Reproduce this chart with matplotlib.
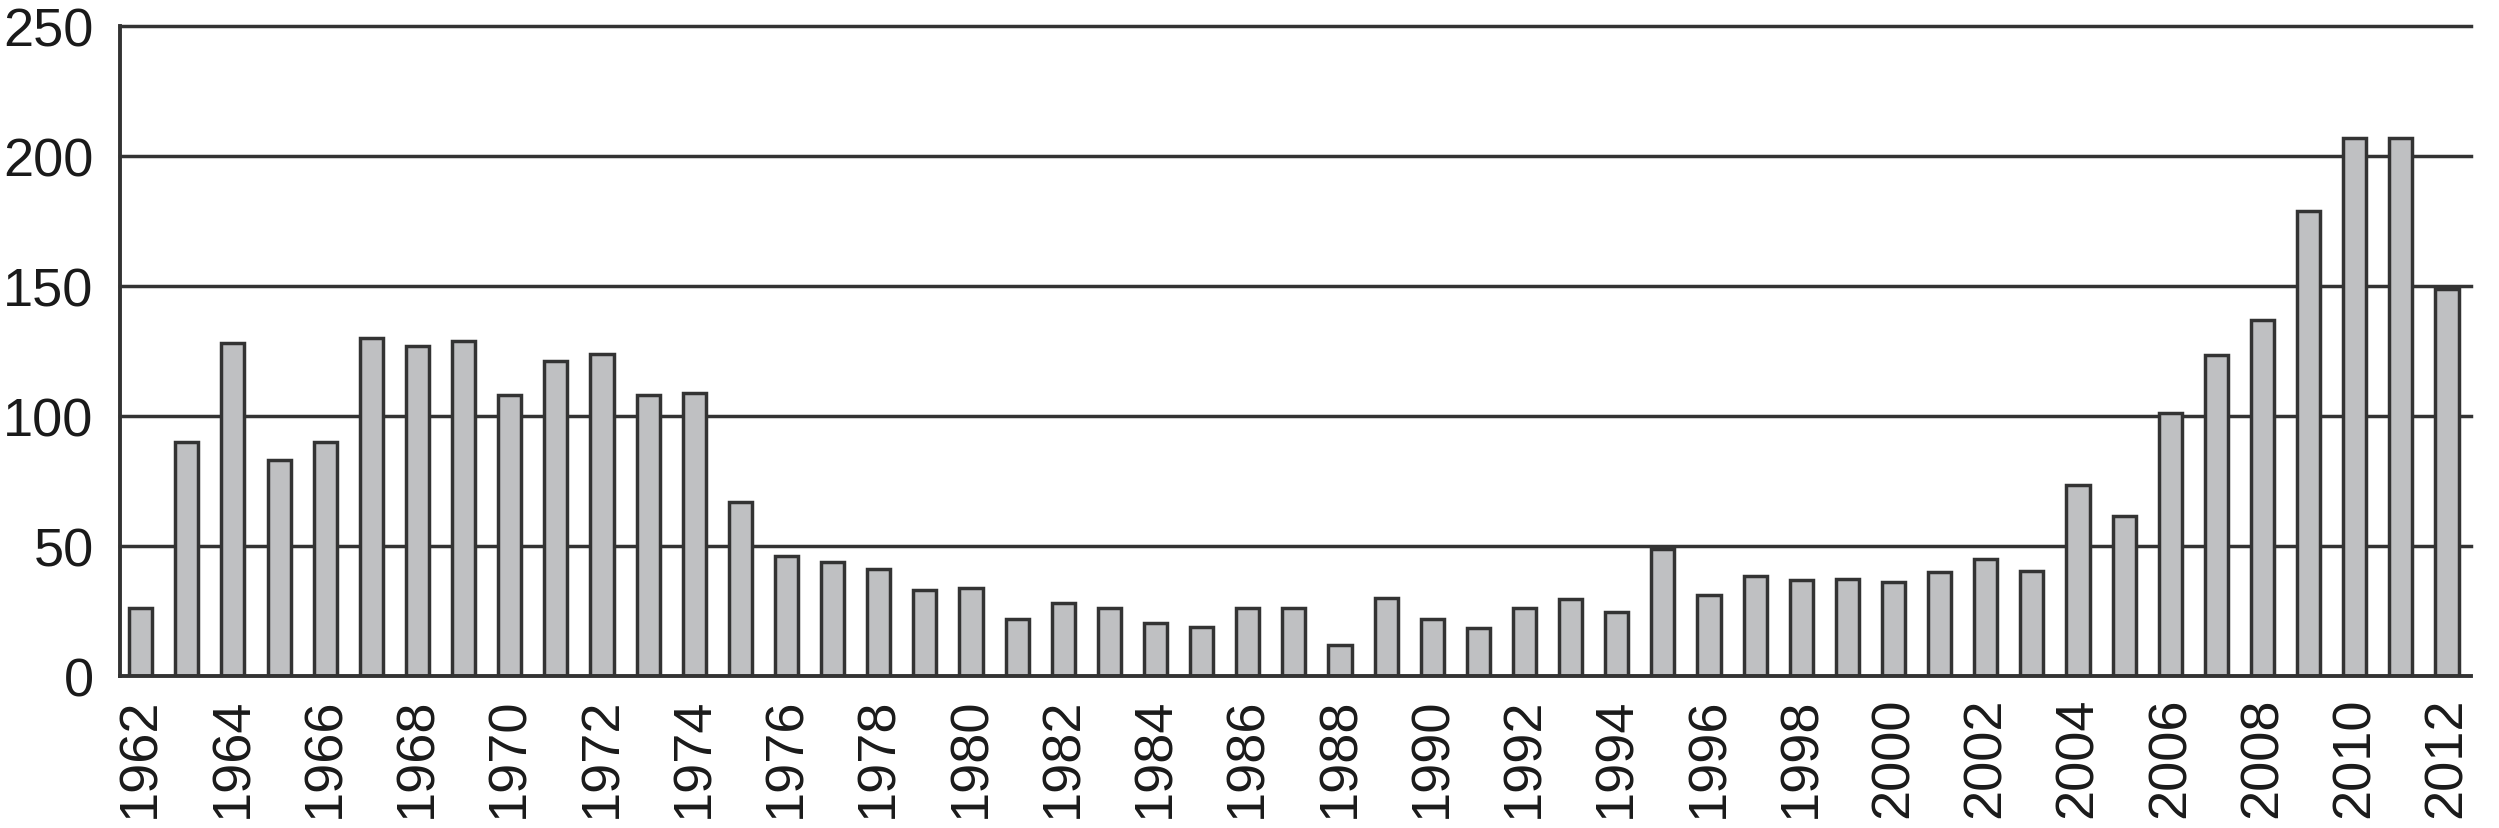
import matplotlib
matplotlib.use("Agg")
import matplotlib.pyplot as plt

years = list(range(1962, 2013))
values = [26, 90, 128, 83, 90, 130, 127, 129, 108, 121, 124, 108, 109, 67, 46,
          44, 41, 33, 34, 22, 28, 26, 20.5, 19, 26, 26, 12, 30, 22, 18.5,
          26, 29.5, 24.5, 49, 31, 38.5, 37, 37.5, 36, 40, 45, 40.5, 73.5,
          61.5, 101, 123.5, 137, 179, 207, 207, 149]
yticks = [0, 50, 100, 150, 200, 250]
xtick_years = list(range(1962, 2013, 2))

plt.rcParams['font.family'] = ['Liberation Sans', 'DejaVu Sans']
dark = '#333333'

fig = plt.figure(figsize=(24.99, 8.29), dpi=100)
ax = fig.add_axes([0.048, 0.1833, 0.9408, 0.7841])

ax.bar(years, values, width=0.5, color='#bfc0c2', edgecolor=dark,
       linewidth=2.5, zorder=3)

for t in yticks[1:]:
    ax.axhline(t, color=dark, linewidth=2.5, zorder=1, clip_on=False)

ax.set_xlim(1961.55, 2012.52)
ax.set_ylim(0, 250)
ax.set_yticks(yticks)
ax.set_xticks(xtick_years)
ax.set_xticklabels([str(y) for y in xtick_years], rotation=90)

for s in ['top', 'right']:
    ax.spines[s].set_visible(False)
for s in ['left', 'bottom']:
    ax.spines[s].set_color(dark)
    ax.spines[s].set_linewidth(2.8)
    ax.spines[s].set_zorder(4)

ax.tick_params(axis='both', length=0, labelsize=39, colors='#1a1a1a')
ax.tick_params(axis='y', pad=19)
ax.tick_params(axis='x', pad=15)

fig.savefig('out.png', dpi=100)
